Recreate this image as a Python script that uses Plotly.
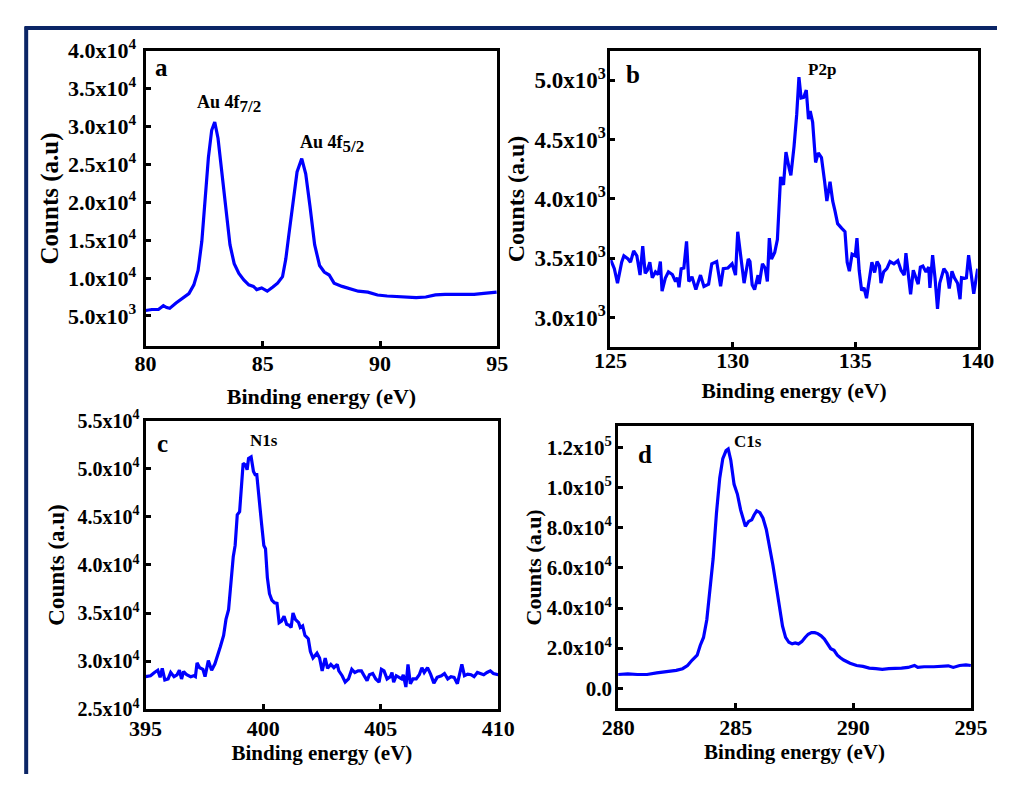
import plotly.graph_objects as go

W, H = 1014, 785

# ---------------- data ----------------
a_energy = [80.00, 80.27, 80.55, 80.76, 80.90, 81.03, 81.30, 81.58, 81.85, 82.06, 82.24, 82.40, 82.54,
            82.68, 82.82, 82.95, 83.09, 83.23, 83.41, 83.60, 83.78, 83.98, 84.19, 84.40, 84.60, 84.74,
            84.95, 85.19, 85.43, 85.63, 85.84, 85.98, 86.11, 86.29, 86.46, 86.66, 86.83, 87.01, 87.21,
            87.42, 87.62, 87.83, 88.04, 88.38, 88.72, 89.07, 89.48, 89.89, 90.30, 90.71, 91.13, 91.54,
            91.95, 92.15, 92.36, 92.77, 93.19, 93.60, 94.01, 94.42, 94.97]
a_counts = [5720, 5850, 5850, 6350, 6100, 6000, 6700, 7400, 7950, 9100, 11000, 14850, 20400,
            25900, 29500, 30600, 28450, 24600, 19100, 14400, 11900, 10600, 9750, 9100, 8900, 8480,
            8700, 8270, 8820, 9330, 10180, 12500, 15700, 20400, 24000, 25770, 23770, 19500, 14400,
            11660, 10800, 10400, 9330, 8900, 8600, 8270, 8140, 7760, 7630, 7550, 7420, 7420,
            7500, 7620, 7780, 7840, 7840, 7840, 7840, 7970, 8140]

b_energy = [125.00, 125.16, 125.29, 125.46, 125.55, 125.72, 125.82, 125.95, 126.08, 126.21, 126.32, 126.42,
            126.51, 126.61, 126.71, 126.84, 126.95, 127.04, 127.11, 127.24, 127.37, 127.53, 127.66, 127.74,
            127.80, 127.89, 128.00, 128.11, 128.20, 128.33, 128.49, 128.68, 128.82, 129.01, 129.14, 129.34,
            129.50, 129.61, 129.80, 129.97, 130.11, 130.20, 130.33, 130.46, 130.63, 130.70, 130.79, 130.89,
            131.03, 131.08, 131.21, 131.32, 131.41, 131.49, 131.58, 131.71, 131.82, 131.95, 132.07, 132.17,
            132.30, 132.37, 132.50, 132.61, 132.70, 132.79, 132.89, 133.00, 133.09, 133.16, 133.26, 133.38,
            133.49, 133.62, 133.75, 133.84, 133.97, 134.08, 134.17, 134.28, 134.45, 134.58, 134.67, 134.76,
            134.87, 135.00, 135.07, 135.16, 135.26, 135.36, 135.46, 135.59, 135.68, 135.79, 135.89, 135.99,
            136.05, 136.16, 136.29, 136.42, 136.58, 136.74, 136.87, 137.00, 137.07, 137.17, 137.26, 137.37,
            137.47, 137.57, 137.66, 137.76, 137.89, 138.00, 138.05, 138.16, 138.26, 138.36, 138.45, 138.62,
            138.75, 138.84, 138.95, 139.05, 139.18, 139.28, 139.34, 139.47, 139.54, 139.63, 139.74, 139.84,
            140.00]
b_counts = [3494, 3412, 3290, 3467, 3521, 3494, 3467, 3562, 3521, 3358, 3602, 3372,
            3399, 3467, 3336, 3385, 3363, 3472, 3222, 3331, 3385, 3363, 3304, 3336,
            3255, 3412, 3418, 3643, 3304, 3344, 3236, 3358, 3263, 3282, 3453, 3472,
            3263, 3412, 3418, 3453, 3358, 3724, 3507, 3290, 3494, 3472, 3277, 3236,
            3358, 3282, 3453, 3418, 3304, 3670, 3494, 3548, 3657, 4186, 4118, 4395,
            4259, 4199, 4444, 4715, 5027, 4851, 4856, 4919, 4674, 4742, 4647, 4308,
            4389, 4349, 4145, 3982, 4145, 3982, 3901, 3792, 3752, 3724, 3467, 3391,
            3534, 3521, 3670, 3399, 3228, 3250, 3163, 3358, 3467, 3380, 3472, 3434,
            3290, 3385, 3412, 3472, 3453, 3480, 3399, 3358, 3543, 3358, 3195, 3399,
            3331, 3282, 3426, 3434, 3385, 3426, 3250, 3526, 3331, 3073, 3290, 3412,
            3372, 3244, 3391, 3336, 3290, 3155, 3336, 3331, 3336, 3526, 3358, 3201,
            3412]

c_energy = [395.00, 395.21, 395.38, 395.52, 395.62, 395.71, 395.82, 395.96, 396.07, 396.21, 396.34, 396.44,
            396.53, 396.62, 396.75, 396.92, 397.05, 397.12, 397.19, 397.30, 397.44, 397.53, 397.67, 397.81,
            397.95, 398.04, 398.18, 398.32, 398.42, 398.53, 398.63, 398.73, 398.81, 398.90, 399.00, 399.08,
            399.15, 399.25, 399.32, 399.38, 399.49, 399.59, 399.66, 399.73, 399.82, 399.93, 400.03, 400.10,
            400.18, 400.27, 400.37, 400.48, 400.59, 400.68, 400.78, 400.89, 401.00, 401.10, 401.19, 401.27,
            401.37, 401.51, 401.58, 401.68, 401.78, 401.92, 402.01, 402.12, 402.29, 402.40, 402.51, 402.64,
            402.74, 402.88, 403.01, 403.15, 403.22, 403.36, 403.49, 403.63, 403.77, 403.90, 404.04, 404.18,
            404.32, 404.42, 404.52, 404.66, 404.79, 404.93, 405.03, 405.14, 405.27, 405.41, 405.48, 405.55,
            405.66, 405.75, 405.89, 405.96, 406.07, 406.16, 406.26, 406.37, 406.51, 406.64, 406.75, 406.85,
            406.99, 407.12, 407.26, 407.40, 407.58, 407.71, 407.85, 407.99, 408.12, 408.26, 408.36, 408.45,
            408.56, 408.70, 408.84, 408.97, 409.11, 409.25, 409.38, 409.52, 409.66, 409.79, 410.00]
c_counts = [28390, 28490, 28824, 29058, 28322, 29259, 28055, 28155, 28824, 28390, 28590, 29058,
            28155, 28924, 28590, 28390, 28490, 28390, 29827, 29325, 29159, 28390, 30061, 29058,
            29726, 30328, 31498, 32668, 34340, 35343, 38017, 40859, 42029, 45204, 45539, 47879,
            50553, 50386, 49885, 51055, 51222, 49718, 49383, 49383, 46709, 44368, 42029, 41694,
            38686, 37014, 36346, 36078, 36011, 34006, 34173, 34674, 33838, 33738, 33504, 35008,
            34340, 34006, 33504, 33671, 32668, 32334, 30997, 30328, 30830, 30328, 28991, 30328,
            29259, 29660, 29325, 29660, 28991, 28490, 27821, 28155, 29159, 28824, 28991, 28991,
            28390, 27988, 28590, 28724, 28155, 27821, 29159, 28991, 28155, 28390, 28824, 27821,
            28490, 28322, 28155, 28590, 27320, 29660, 27654, 28155, 28155, 28590, 29325, 28824,
            29325, 28657, 27721, 28322, 28490, 28724, 28155, 28390, 28322, 27654, 28657, 29660,
            28490, 28657, 28590, 28390, 28824, 28657, 28590, 28824, 28991, 28724, 28590]

d_energy = [280.00, 280.41, 280.82, 281.23, 281.64, 282.05, 282.47, 282.74, 282.95, 283.15, 283.36, 283.49,
            283.63, 283.77, 283.90, 284.04, 284.18, 284.32, 284.45, 284.59, 284.68, 284.79, 284.93, 285.07,
            285.21, 285.32, 285.41, 285.55, 285.68, 285.78, 285.89, 286.03, 286.16, 286.30, 286.44, 286.58,
            286.71, 286.85, 286.99, 287.12, 287.26, 287.40, 287.53, 287.67, 287.81, 287.95, 288.08, 288.22,
            288.36, 288.49, 288.63, 288.77, 288.90, 289.04, 289.18, 289.32, 289.45, 289.59, 289.86, 290.14,
            290.41, 290.68, 290.96, 291.23, 291.51, 291.78, 292.05, 292.33, 292.60, 292.74, 293.01, 293.42,
            293.70, 294.04, 294.25, 294.52, 294.79, 295.00]
d_counts = [6861, 7182, 6861, 6861, 7664, 8146, 8949, 9752, 11358, 14087, 16496, 21313,
            25327, 34158, 48609, 64666, 87146, 104809, 114443, 118457, 119260, 113640, 101598, 96780,
            88752, 83935, 80723, 83132, 83935, 86343, 88431, 87467, 84738, 79118, 71089, 61455,
            51821, 40581, 30947, 25327, 22918, 22115, 22597, 22115, 23239, 25327, 26932, 27735,
            27735, 27254, 26130, 24524, 22115, 19707, 18904, 16496, 15211, 14087, 12481, 11358,
            10876, 10073, 9752, 9431, 9752, 9752, 10073, 10394, 11358, 10394, 10715, 10715,
            10876, 11197, 10394, 11358, 11679, 11358]

# axis ticks
a_xticks = [80, 85, 90, 95]
a_yticks = [5000, 10000, 15000, 20000, 25000, 30000, 35000, 40000]
a_ylabels = ["5.0x10<sup>3</sup>", "1.0x10<sup>4</sup>", "1.5x10<sup>4</sup>", "2.0x10<sup>4</sup>",
             "2.5x10<sup>4</sup>", "3.0x10<sup>4</sup>", "3.5x10<sup>4</sup>", "4.0x10<sup>4</sup>"]
b_xticks = [125, 130, 135, 140]
b_yticks = [3000, 3500, 4000, 4500, 5000]
b_ylabels = ["3.0x10<sup>3</sup>", "3.5x10<sup>3</sup>", "4.0x10<sup>3</sup>", "4.5x10<sup>3</sup>",
             "5.0x10<sup>3</sup>"]
c_xticks = [395, 400, 405, 410]
c_yticks = [25000, 30000, 35000, 40000, 45000, 50000, 55000]
c_ylabels = ["2.5x10<sup>4</sup>", "3.0x10<sup>4</sup>", "3.5x10<sup>4</sup>", "4.0x10<sup>4</sup>",
             "4.5x10<sup>4</sup>", "5.0x10<sup>4</sup>", "5.5x10<sup>4</sup>"]
d_xticks = [280, 285, 290, 295]
d_yticks = [0, 20000, 40000, 60000, 80000, 100000, 120000]
d_ylabels = ["0.0", "2.0x10<sup>4</sup>", "4.0x10<sup>4</sup>", "6.0x10<sup>4</sup>",
             "8.0x10<sup>4</sup>", "1.0x10<sup>5</sup>", "1.2x10<sup>5</sup>"]

x_title = "Binding energy (eV)"
y_title = "Counts (a.u)"

# ---------------- figure ----------------
SERIF = "Liberation Serif, Times New Roman, serif"
BLUE = "#0000ff"

# per-panel layout: plot-area box in px (left, top, right, bottom) and text styling
style = {
    "a": dict(box=(133, 36, 497, 342), ytick=22, yst=2, xst=-5, xtitle=22, xts=14, ytitle=25, yts=3),
    "b": dict(box=(614, 36, 994, 343), ytick=23, yst=-3, xst=-9, xtitle=21.5, xts=12, ytitle=24, yts=4),
    "c": dict(box=(133, 419, 498, 718), ytick=20, yst=-1, xst=-3, xtitle=21, xts=5, ytitle=23, yts=7),
    "d": dict(box=(622, 425, 987, 717), ytick=21, yst=-1, xst=-3, xtitle=21, xts=2, ytitle=22, yts=0),
}

def dom(box):
    l, t, r, b = box
    return [l / W, r / W], [1 - b / H, 1 - t / H]

panels = [
    ("a", a_energy, a_counts, [80, 95], [1000, 40000], a_xticks, a_yticks, a_ylabels),
    ("b", b_energy, b_counts, [125, 140], [2750, 5250], b_xticks, b_yticks, b_ylabels),
    ("c", c_energy, c_counts, [395, 410], [25000, 55000], c_xticks, c_yticks, c_ylabels),
    ("d", d_energy, d_counts, [280, 295], [-10000, 130500], d_xticks, d_yticks, d_ylabels),
]

fig = go.Figure()
layout = dict(
    width=W, height=H, autosize=False,
    margin=dict(l=0, r=0, t=0, b=0),
    paper_bgcolor="white", plot_bgcolor="white",
    showlegend=False,
    font=dict(family=SERIF, color="black"),
)

for i, (name, xs, ys, xr, yr, xt, yt, yl) in enumerate(panels, start=1):
    sfx = "" if i == 1 else str(i)
    st = style[name]
    fig.add_trace(go.Scatter(x=xs, y=ys, mode="lines",
                             line=dict(color=BLUE, width=3.2),
                             xaxis="x" + sfx, yaxis="y" + sfx))
    xd, yd = dom(st["box"])
    layout["xaxis" + sfx] = dict(
        domain=xd, range=xr, anchor="y" + sfx,
        tickvals=xt, ticktext=[str(v) for v in xt],
        ticks="inside", ticklen=5, tickwidth=3, tickcolor="black",
        showline=True, linewidth=3, linecolor="black", mirror=True,
        showgrid=False, zeroline=False,
        ticklabelstandoff=st["xst"],
        tickfont=dict(family=SERIF, size=22, weight="bold"),
        title=dict(text=x_title, font=dict(family=SERIF, size=st["xtitle"], weight="bold"),
                   standoff=st["xts"]),
    )
    layout["yaxis" + sfx] = dict(
        domain=yd, range=yr, anchor="x" + sfx,
        tickvals=yt, ticktext=yl,
        ticks="inside", ticklen=5, tickwidth=3, tickcolor="black",
        showline=True, linewidth=3, linecolor="black", mirror=True,
        showgrid=False, zeroline=False,
        ticklabelstandoff=st["yst"],
        tickfont=dict(family=SERIF, size=st["ytick"], weight="bold"),
        title=dict(text=y_title, font=dict(family=SERIF, size=st["ytitle"], weight="bold"),
                   standoff=st["yts"]),
    )

fig.update_layout(**layout)

def ann(sfx, x, y, text, size, xanchor="center"):
    fig.add_annotation(x=x, y=y, xref="x" + sfx, yref="y" + sfx, text=text, showarrow=False,
                       xanchor=xanchor, yanchor="middle",
                       font=dict(family=SERIF, size=size, color="black", weight="bold"))

ann("", 80.7, 37750, "a", 25)
ann("", 82.12, 32950, "Au 4f<sub><span style='font-size:17px'>7/2</span></sub>", 18, "left")
ann("", 86.52, 27700, "Au 4f<sub><span style='font-size:17px'>5/2</span></sub>", 18, "left")
ann("2", 125.93, 5051, "b", 25)
ann("2", 133.65, 5095, "P2p", 17)
ann("3", 395.7, 52600, "c", 25)
ann("3", 400.05, 52900, "N1s", 17)
ann("4", 281.15, 116500, "d", 25)
ann("4", 285.53, 123000, "C1s", 17)

# outer navy frame (top and left edges)
NAVY = "#0b2566"
fig.add_shape(type="line", xref="paper", yref="paper", x0=8 / W, x1=1.0, y0=1 - 12.5 / H, y1=1 - 12.5 / H,
              line=dict(color=NAVY, width=4))
fig.add_shape(type="line", xref="paper", yref="paper", x0=9.5 / W, x1=9.5 / W, y0=0, y1=1 - 11 / H,
              line=dict(color=NAVY, width=4))

fig.write_html("out.html", config={"displayModeBar": False, "responsive": False},
               post_script="document.body.style.margin='0';")
